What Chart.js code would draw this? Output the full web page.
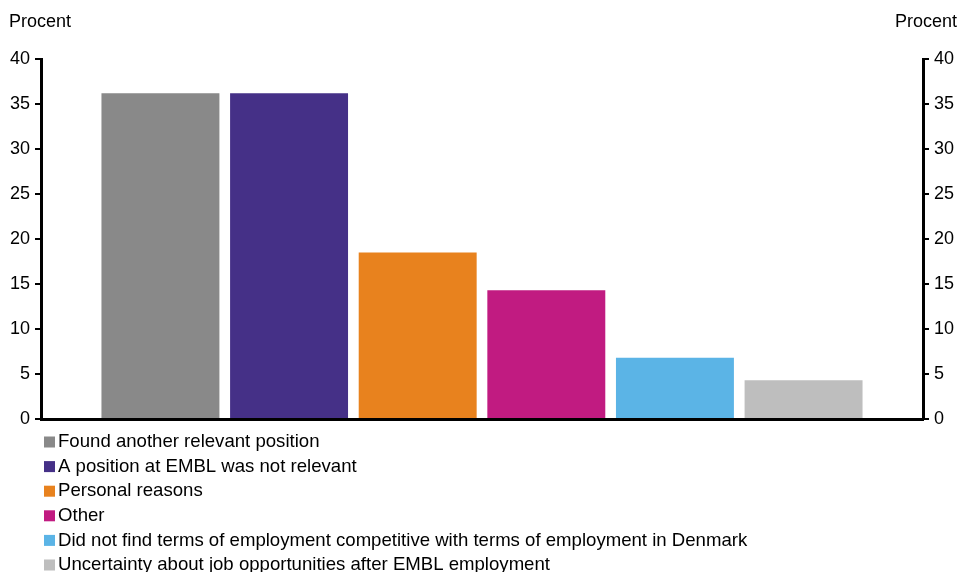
<!DOCTYPE html>
<html>
<head>
<meta charset="utf-8">
<script src="https://cdn.jsdelivr.net/npm/chart.js@4/dist/chart.umd.min.js"></script>
<style>
  body { margin: 0; background: #fff; }
  #wrap { width: 960px; height: 572px; }
</style>
</head>
<body>
<div id="wrap"><canvas id="myChart" width="960" height="572"></canvas></div>
<script>
var reasons = [
    'Found another relevant position',
    'A position at EMBL was not relevant',
    'Personal reasons',
    'Other',
    'Did not find terms of employment competitive with terms of employment in Denmark',
    'Uncertainty about job opportunities after EMBL employment'
];
var values = [36.2, 36.2, 18.5, 14.3, 6.8, 4.3];
var colors = ['#898989', '#453087', '#E8821E', '#C11B81', '#5BB4E6', '#BEBEBE'];
var yTicks = [0, 5, 10, 15, 20, 25, 30, 35, 40];
var axisTitle = 'Procent';

var fontFamily = '"Liberation Sans", Arial, Helvetica, sans-serif';

var datasets = [];
for (var i in reasons) {
    datasets.push({
        label: reasons[i],
        backgroundColor: colors[i],
        borderWidth: 0,
        data: [values[i]]
    });
}

// draws the "Procent" titles and the one-per-line legend under the plot
var extraText = {
    id: 'extraText',
    afterDraw: function(chart) {
        var ctx = chart.ctx;
        ctx.save();
        ctx.font = '18px ' + fontFamily;
        ctx.fillStyle = '#000';
        ctx.textBaseline = 'middle';
        ctx.textAlign = 'left';
        ctx.fillText(axisTitle, 9, 22);
        ctx.textAlign = 'right';
        ctx.fillText(axisTitle, 957, 22);

        ctx.font = '18.6px ' + fontFamily;
        ctx.textAlign = 'left';
        var y0 = 442;
        var step = 24.6;
        chart.data.datasets.forEach(function(ds, k) {
            var y = y0 + k * step;
            ctx.fillStyle = ds.backgroundColor;
            ctx.fillRect(44, y - 5.5, 11, 11);
            ctx.fillStyle = '#000';
            ctx.fillText(ds.label, 58, y);
        });
        ctx.restore();
    }
};

var yAxis = function(pos, w) {
    return {
        position: pos,
        min: 0,
        max: 40,
        afterBuildTicks: function(scale) {
            scale.ticks = yTicks.map(function(v) { return { value: v }; });
        },
        afterFit: function(scale) { scale.width = w; },
        grid: {
            display: true,
            drawOnChartArea: false,
            drawTicks: true,
            tickLength: 6,
            color: '#000',
            lineWidth: 2
        },
        border: { display: true, color: '#000', width: 3 },
        ticks: {
            color: '#000',
            padding: 5,
            font: { family: fontFamily, size: 18 }
        }
    };
};

var ctx = document.getElementById('myChart').getContext('2d');
var chart = new Chart(ctx, {
    type: 'bar',
    data: {
        labels: [''],
        datasets: datasets
    },
    options: {
        responsive: false,
        animation: false,
        layout: { padding: { top: 59, bottom: 153, left: 0, right: 0 } },
        categoryPercentage: 0.875,
        barPercentage: 0.917,
        plugins: {
            legend: { display: false },
            tooltip: { enabled: false }
        },
        scales: {
            x: {
                afterFit: function(scale) { scale.height = 0; },
                grid: { display: false },
                border: { display: true, color: '#000', width: 3 },
                ticks: { display: false }
            },
            y: yAxis('left', 41),
            y2: yAxis('right', 37)
        }
    },
    plugins: [extraText]
});
</script>
</body>
</html>
